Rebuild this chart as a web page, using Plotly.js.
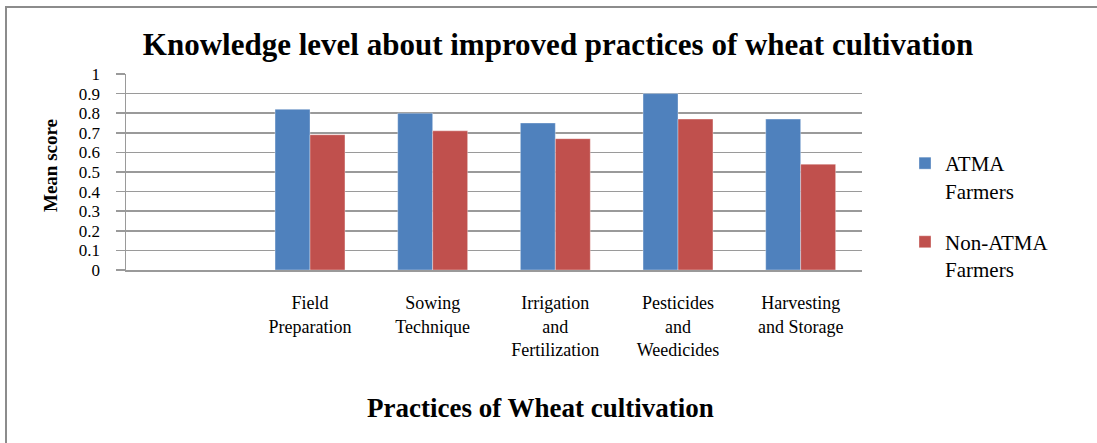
<!DOCTYPE html>
<html>
<head>
<meta charset="utf-8">
<script src="https://cdn.plot.ly/plotly-3.0.1.min.js"></script>
<style>
  html, body { margin: 0; padding: 0; background: #fff; }
  #chart { width: 1097px; height: 443px; }
</style>
</head>
<body>
<div id="chart"></div>
<script>
// ---- data ----
const categories = [
  "Field<br>Preparation",
  "Sowing<br>Technique",
  "Irrigation<br>and<br>Fertilization",
  "Pesticides<br>and<br>Weedicides",
  "Harvesting<br>and Storage"
];
const atmaFarmers    = [0.82, 0.80, 0.75, 0.90, 0.77];
const nonAtmaFarmers = [0.69, 0.71, 0.67, 0.77, 0.54];
const seriesNames = ["ATMA<br>Farmers", "Non-ATMA<br>Farmers"];
const yTickValues = [0, 0.1, 0.2, 0.3, 0.4, 0.5, 0.6, 0.7, 0.8, 0.9, 1];
const yTickLabels = ["0", "0.1", "0.2", "0.3", "0.4", "0.5", "0.6", "0.7", "0.8", "0.9", "1"];
const chartTitle = "Knowledge level about improved practices of wheat cultivation";
const xTitle = "Practices of Wheat cultivation";
const yTitle = "Mean score";

const SERIF = "'Liberation Serif', 'Times New Roman', serif";
const GRID = "#9a9a9a";

const traces = [
  {
    type: "bar", x: categories, y: atmaFarmers, name: seriesNames[0],
    legendgroup: "a",
    marker: { color: "#4F81BD", line: { color: "rgba(255,255,255,0.35)", width: 1 } }
  },
  {
    type: "bar", x: categories, y: nonAtmaFarmers, name: seriesNames[1],
    legendgroup: "b",
    marker: { color: "#C0504D", line: { color: "rgba(255,255,255,0.35)", width: 1 } }
  }
];

const W = 1097, H = 443;
const L = 126, R = 862, T = 74, B = 270;
const px2x = p => (p - L) / (R - L);
const py2y = p => (B - p) / (B - T);

const layout = {
  width: W, height: H,
  margin: { l: L, r: W - R, t: T, b: H - B, pad: 0 },
  paper_bgcolor: "#ffffff",
  plot_bgcolor: "#ffffff",
  font: { family: SERIF, color: "#000000" },
  barmode: "group",
  bargap: 0.43,
  bargroupgap: 0,
  title: {
    text: "<b>" + chartTitle + "</b>",
    font: { family: SERIF, size: 31, color: "#000" },
    xref: "container", x: 558 / W, xanchor: "center",
    yref: "container", y: 1 - 44 / H, yanchor: "middle"
  },
  xaxis: {
    type: "category",
    range: [-1.5, 4.5],
    showgrid: false,
    showline: true, linecolor: GRID, linewidth: 1.5,
    ticks: "",
    tickfont: { family: SERIF, size: 18, color: "#000" },
    ticklabelstandoff: 16,
    fixedrange: true
  },
  yaxis: {
    range: [0, 1],
    tickmode: "array",
    tickvals: yTickValues,
    ticktext: yTickLabels,
    showgrid: true, gridcolor: GRID, gridwidth: 1.5,
    zeroline: false,
    showline: true, linecolor: GRID, linewidth: 1.5,
    ticks: "outside", ticklen: 9, tickcolor: GRID, tickwidth: 1.5,
    tickfont: { family: SERIF, size: 17, color: "#000" },
    ticklabelstandoff: 12,
    fixedrange: true
  },
  legend: {
    x: px2x(905), xanchor: "left",
    y: py2y(143), yanchor: "top",
    font: { family: SERIF, size: 21, color: "#000" },
    tracegroupgap: 21,
    valign: "top",
    bgcolor: "rgba(0,0,0,0)"
  },
  annotations: [
    {
      text: "<b>" + yTitle + "</b>",
      xref: "paper", yref: "paper",
      x: px2x(50), y: py2y(166), xanchor: "center", yanchor: "middle",
      textangle: -90, showarrow: false,
      font: { family: SERIF, size: 19, color: "#000" }
    },
    {
      text: "<b>" + xTitle + "</b>",
      xref: "paper", yref: "paper",
      x: px2x(540), y: py2y(408), xanchor: "center", yanchor: "middle",
      showarrow: false,
      font: { family: SERIF, size: 27, color: "#000" }
    }
  ],
  shapes: [
    {
      type: "rect", xref: "paper", yref: "paper", layer: "below",
      x0: px2x(6), x1: px2x(1200), y0: py2y(7), y1: py2y(600),
      line: { color: "#8c8c8c", width: 2 }, fillcolor: "rgba(0,0,0,0)"
    }
  ],
  showlegend: true
};

Plotly.newPlot("chart", traces, layout, { displayModeBar: false, staticPlot: true });
</script>
</body>
</html>
